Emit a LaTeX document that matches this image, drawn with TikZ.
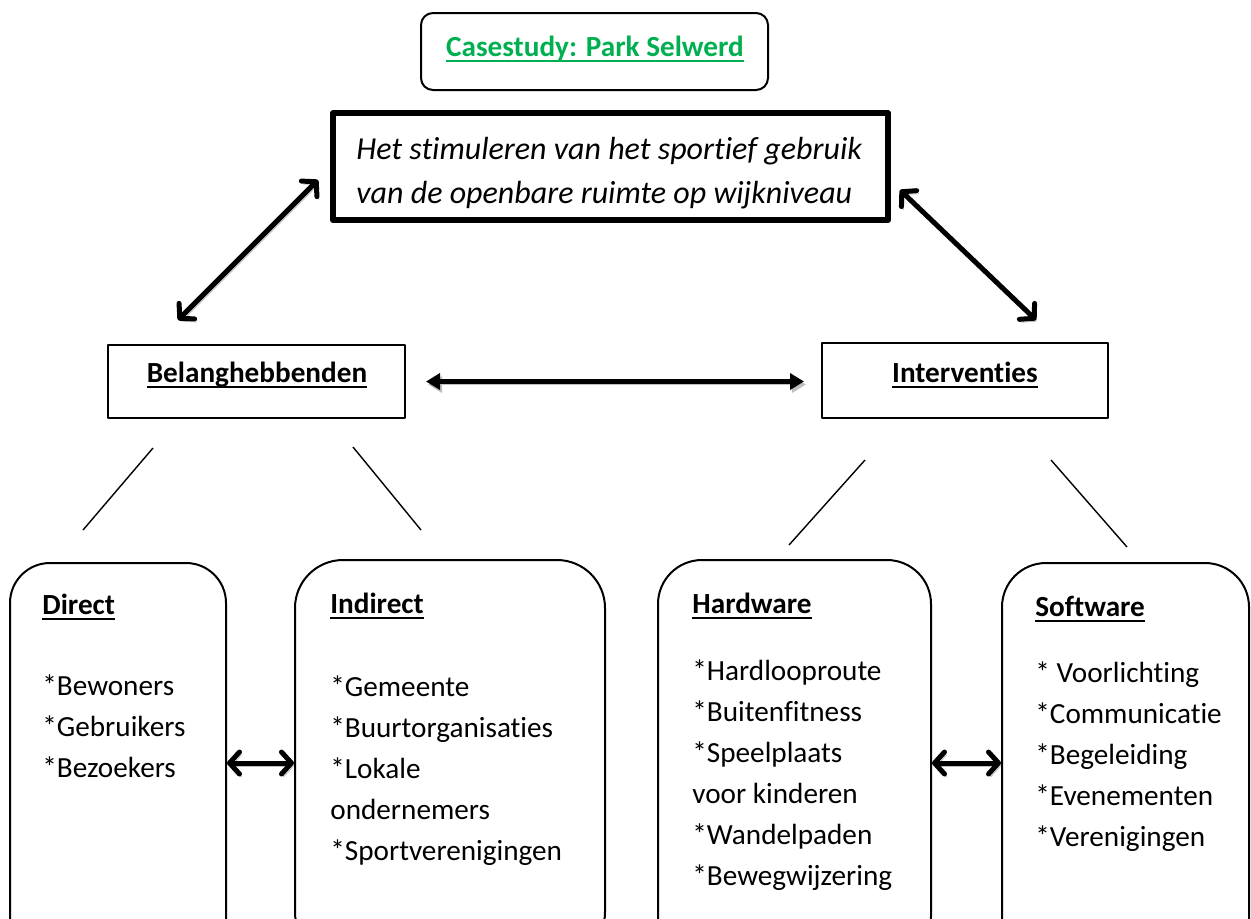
\documentclass[tikz,border=0pt]{standalone}
\usepackage{fontspec}
\setmainfont{Carlito}[Ligatures=NoCommon]
\usetikzlibrary{arrows.meta,positioning}
\definecolor{casegreen}{RGB}{0,176,80}
\newcommand\ulbox[1]{\setbox0=\hbox{#1}\rlap{\vrule height -2.2pt depth 3.1pt width \wd0}\box0}

\begin{document}
\begin{tikzpicture}[x=0.5pt,y=-0.5pt,line join=round]
  \tikzstyle{box}=[draw,line width=1pt,inner sep=0pt]
  \tikzstyle{roundbox}=[box,rounded corners=20pt,minimum height=200pt]
  \tikzstyle{head}=[font=\fontsize{14.6}{17}\selectfont\bfseries,anchor=base west,inner sep=0pt]
  \tikzstyle{item}=[font=\fontsize{14.6}{17}\selectfont,anchor=base west,inner sep=0pt]
  \tikzstyle{goaltext}=[font=\fontsize{16}{19}\selectfont\itshape,anchor=base west,inner sep=0pt]
  \tikzstyle{thin}=[line width=0.7pt]
  \tikzstyle{shade}=[preaction={draw=black!25,transform canvas={shift={(1pt,-1.5pt)}}}]
  \tikzstyle{link}=[shade,line width=2.5pt,line cap=round,
    {Straight Barb[length=5pt,width=11pt,round]}-{Straight Barb[length=5pt,width=11pt,round]}]
  \tikzstyle{flat}=[shade,line width=2.5pt,{Triangle[length=7pt,width=8pt]}-{Triangle[length=7pt,width=8pt]}]
  \useasboundingbox (0,0) rectangle (1251,918);
  \clip (0,0) rectangle (1251,918);

  % top
  \node[box,rounded corners=6pt,minimum width=173.5pt,minimum height=38.5pt] (case) at (594.5,51.5) {};
  \node[head,anchor=base,text=casegreen] (case-t) at (595,56) {\ulbox{Casestudy: Park Selwerd}};
  \node[box,line width=3pt,minimum width=277.5pt,minimum height=53.5pt] (goal) at (610.5,166.5) {};
  \node[goaltext] (goal-1) at (356,159) {Het stimuleren van het sportief gebruik};
  \node[goaltext] (goal-2) at (356,203) {van de openbare ruimte op wijkniveau};

  % middle
  \node[box,minimum width=148.5pt,minimum height=36.5pt] (bel) at (256.5,381.5) {};
  \node[head,anchor=base] (bel-t) at (257,382) {\ulbox{Belanghebbenden}};
  \node[box,minimum width=143pt,minimum height=37.5pt] (int) at (965,380.5) {};
  \node[head,anchor=base] (int-t) at (965,382) {\ulbox{Interventies}};

  \coordinate (goal-l) at (318,180);
  \coordinate (bel-u) at (178,320);
  \coordinate (goal-r) at (900,190);
  \coordinate (int-u) at (1036,320);
  \draw[link] (bel-u) -- (goal-l);
  \draw[link] (goal-r) -- (int-u);
  \draw[flat,shorten <=10pt,shorten >=8.5pt] (bel.east) -- (bel.east -| int.west);

  % branches
  \coordinate (b1) at (153,448); \coordinate (b2) at (83,530);
  \coordinate (b3) at (353,447); \coordinate (b4) at (421,530);
  \coordinate (b5) at (865,460); \coordinate (b6) at (789,545);
  \coordinate (b7) at (1051,460); \coordinate (b8) at (1127,547);
  \draw[thin] (b1) -- (b2);
  \draw[thin] (b3) -- (b4);
  \draw[thin] (b5) -- (b6);
  \draw[thin] (b7) -- (b8);

  % bottom boxes
  \node[roundbox,rounded corners=20pt,minimum width=108pt] (direct) at (118,763) {};
  \node[roundbox,rounded corners=24pt,minimum width=155pt] (indirect) at (450,760) {};
  \node[roundbox,rounded corners=22pt,minimum width=136.5pt] (hardware) at (794.5,760) {};
  \node[roundbox,rounded corners=22pt,minimum width=123.5pt] (software) at (1125.5,763) {};

  \node[head] (direct-t) at (42,614) {\ulbox{Direct}};
  \foreach \t [count=\i] in {*Bewoners,*Gebruikers,*Bezoekers}
    \node[item] (direct-\i) at (42,{695+41*(\i-1)}) {\t};

  \node[head] (indirect-t) at (330,613) {\ulbox{Indirect}};
  \foreach \t [count=\i] in {*Gemeente,*Buurtorganisaties,*Lokale,ondernemers,*Sportverenigingen}
    \node[item] (indirect-\i) at (330,{696+41*(\i-1)}) {\t};

  \node[head] (hardware-t) at (692,613) {\ulbox{Hardware}};
  \foreach \t [count=\i] in {*Hardlooproute,*Buitenfitness,*Speelplaats,voor kinderen,*Wandelpaden,*Bewegwijzering}
    \node[item] (hardware-\i) at (692,{680+41*(\i-1)}) {\t};

  \node[head] (software-t) at (1035,616) {\ulbox{Software}};
  \foreach \t [count=\i] in {* Voorlichting,*Communicatie,*Begeleiding,*Evenementen,*Verenigingen}
    \node[item] (software-\i) at (1035,{682+41*(\i-1)}) {\t};

  \draw[link] (direct.east) -- (direct.east -| indirect.west);
  \draw[link] (software.west -| hardware.east) -- (software.west);
\end{tikzpicture}
\end{document}
